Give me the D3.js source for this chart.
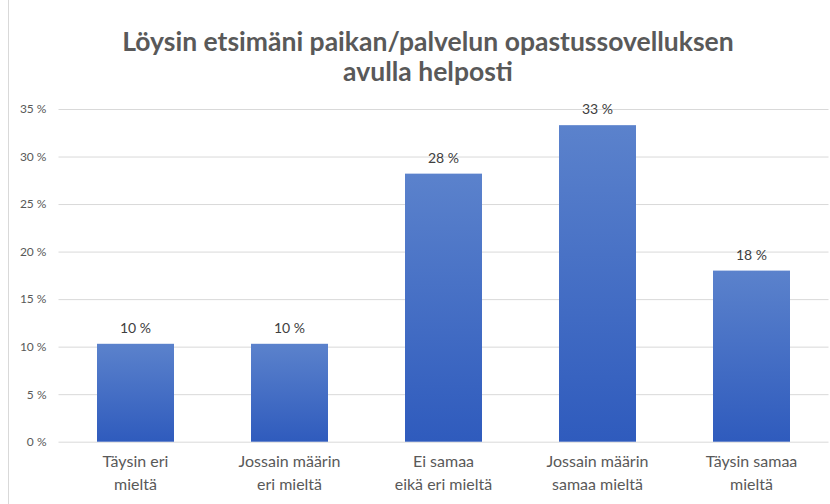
<!DOCTYPE html>
<html><head><meta charset="utf-8">
<script src="https://cdn.jsdelivr.net/npm/d3@7"></script>
<style>body{margin:0;background:#fff}svg{display:block}</style>
</head><body>
<svg id="c" width="830" height="504"></svg>
<script>
const categories = [["Täysin eri","mieltä"],["Jossain määrin","eri mieltä"],["Ei samaa","eikä eri mieltä"],["Jossain määrin","samaa mieltä"],["Täysin samaa","mieltä"]];
const values = [10.3, 10.3, 28.2, 33.3, 18.0];
const labels = ["10 %","10 %","28 %","33 %","18 %"];
const yTicks = [0,5,10,15,20,25,30,35];
const titleLines = ["Löysin etsimäni paikan/palvelun opastussovelluksen","avulla helposti"];

const svg = d3.select("#c");
const font = "Lato, 'Open Sans', sans-serif";
const x = d3.scaleBand().domain(d3.range(values.length)).range([58.5, 828.5]).paddingInner(0.5).paddingOuter(0.25);
const y = d3.scaleLinear().domain([0,35]).range([441.7, 109]);

// border
svg.append("line").attr("x1",8.5).attr("x2",8.5).attr("y1",0).attr("y2",504).attr("stroke","#d9d9d9");

const defs = svg.append("defs");
const g = defs.append("linearGradient").attr("id","bg").attr("x1",0).attr("x2",0).attr("y1",0).attr("y2",1);
g.append("stop").attr("offset","0%").attr("stop-color","#5b82cc");
g.append("stop").attr("offset","100%").attr("stop-color","#2f5bbd");

// grid + y labels
const yAxis = d3.axisLeft(y).tickValues(yTicks).tickSize(-(828.5-58.5)).tickFormat(d => d + " %");
const ya = svg.append("g").attr("transform","translate(58.5,0)").call(yAxis);
ya.select(".domain").remove();
ya.selectAll(".tick line").attr("stroke","#d9d9d9");
ya.selectAll(".tick text").attr("x",-12).attr("fill","#595959").style("font-family",font).style("font-size","12px");

// title
svg.append("g").selectAll("text").data(titleLines).join("text")
  .attr("x",428).attr("y",(d,i)=>51+i*30).attr("text-anchor","middle")
  .attr("fill","#595959").style("font-family",font).style("font-weight","bold").style("font-size","26.5px")
  .text(d=>d);

// bars
svg.append("g").selectAll("rect").data(values).join("rect")
  .attr("x",(d,i)=>x(i)).attr("width",x.bandwidth())
  .attr("y",d=>y(d)).attr("height",d=>y(0)-y(d)).attr("fill","url(#bg)");

// data labels
svg.append("g").selectAll("text").data(values).join("text")
  .attr("x",(d,i)=>x(i)+x.bandwidth()/2).attr("y",d=>y(d)-11).attr("text-anchor","middle")
  .attr("fill","#404040").style("font-family",font).style("font-size","14px")
  .text((d,i)=>labels[i]);

// x labels
const xl = svg.append("g").selectAll("text").data(categories).join("text")
  .attr("text-anchor","middle").attr("fill","#595959").style("font-family",font).style("font-size","16px");
xl.each(function(d,i){
  const t = d3.select(this);
  d.forEach((line,j)=>{
    t.append("tspan").attr("x",x(i)+x.bandwidth()/2).attr("y",467+j*23).text(line);
  });
});
</script>
</body></html>
